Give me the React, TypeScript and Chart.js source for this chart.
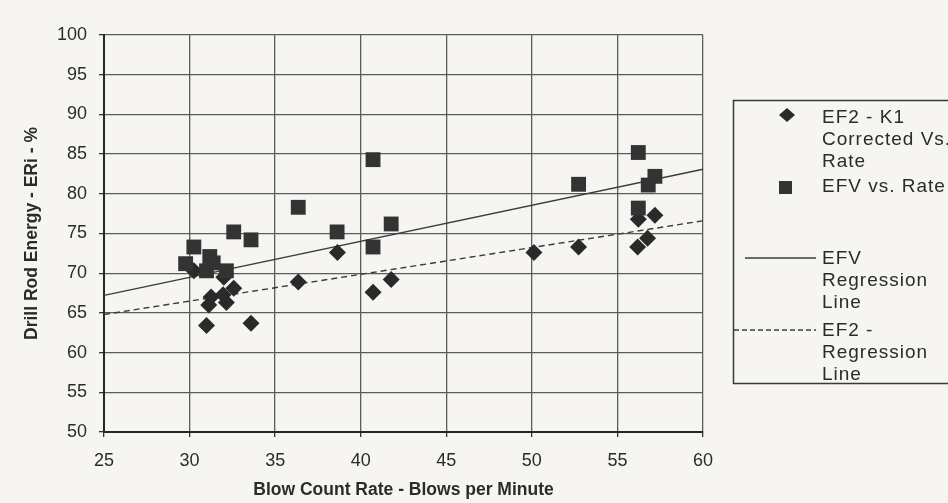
import { useEffect, useRef } from "react";
import { Chart, registerables } from "chart.js";

Chart.register(...registerables);

// EF2 - K1 corrected energy vs. blow count rate
const ef2Rate = [30.25, 32.0, 32.58, 31.26, 31.96, 32.15, 31.12, 30.99, 33.59, 36.35, 38.64, 40.72, 41.78, 50.12, 52.73, 56.18, 56.76, 56.22, 57.19];
const ef2Energy = [70.3, 69.5, 68.1, 67.0, 67.3, 66.3, 66.0, 63.4, 63.7, 68.9, 72.6, 67.6, 69.2, 72.6, 73.3, 73.3, 74.4, 76.8, 77.3];

// EFV energy vs. blow count rate
const efvRate = [29.77, 30.25, 31.18, 31.38, 30.99, 32.15, 32.58, 33.59, 36.35, 38.62, 40.72, 40.72, 41.78, 52.73, 56.22, 57.19, 56.8, 56.22];
const efvEnergy = [71.2, 73.3, 72.1, 71.3, 70.3, 70.3, 75.2, 74.2, 78.3, 75.2, 84.3, 73.3, 76.2, 81.2, 85.2, 82.2, 81.1, 78.2];

// Regression line end points
const fitRate = [25, 60];
const efvFit = [67.2, 83.1];
const ef2Fit = [64.8, 76.6];

// Axis ranges and labels
const xRange = [25, 60];
const yRange = [50, 100];
const tickStep = 5;
const xTitle = "Blow Count Rate - Blows per Minute";
const yTitle = "Drill Rod Energy - ERi - %";

// Legend text, one array per entry (wrapped lines)
const legendEf2Points = ["EF2 - K1", "Corrected Vs.", "Rate"];
const legendEfvPoints = ["EFV vs. Rate"];
const legendEfvLine = ["EFV", "Regression", "Line"];
const legendEf2Line = ["EF2 -", "Regression", "Line"];

const FONT = "'Liberation Sans', Arial, Helvetica, sans-serif";
const INK = "#2b2b2b";
const PAPER = "#f6f5f2";

const toPoints = (xs: number[], ys: number[]) => xs.map((x, i) => ({ x, y: ys[i] }));

const paperPlugin = {
  id: "paper",
  beforeDraw(chart: any) {
    const { ctx, width, height } = chart;
    ctx.save();
    ctx.fillStyle = PAPER;
    ctx.fillRect(0, 0, width, height);
    ctx.restore();
  },
};

const boxLegendPlugin = {
  id: "boxLegend",
  afterDraw(chart: any) {
    const { ctx } = chart;
    const ds = chart.data.datasets;
    ctx.save();
    // frame
    ctx.strokeStyle = "#3a3a3a";
    ctx.lineWidth = 1.5;
    ctx.strokeRect(733.5, 100.5, 230, 283);

    ctx.fillStyle = INK;
    ctx.font = `19px ${FONT}`;
    (ctx as any).letterSpacing = "1px";
    ctx.textBaseline = "middle";
    ctx.textAlign = "left";
    const textX = 822;
    const lineGap = 22;
    const drawLines = (lines: string[], y0: number) =>
      lines.forEach((t, i) => ctx.fillText(t, textX, y0 + i * lineGap));

    // diamond entry
    ctx.fillStyle = ds[0].backgroundColor;
    ctx.beginPath();
    ctx.moveTo(787, 115 - 7);
    ctx.lineTo(795, 115);
    ctx.lineTo(787, 115 + 7);
    ctx.lineTo(779, 115);
    ctx.closePath();
    ctx.fill();
    ctx.fillStyle = INK;
    drawLines(legendEf2Points, 118);

    // square entry
    ctx.fillStyle = ds[1].backgroundColor;
    ctx.fillRect(779, 181, 13, 13);
    ctx.fillStyle = INK;
    drawLines(legendEfvPoints, 187);

    // solid regression line entry
    ctx.strokeStyle = ds[2].borderColor;
    ctx.lineWidth = 1.4;
    ctx.beginPath();
    ctx.moveTo(745, 258);
    ctx.lineTo(816, 258);
    ctx.stroke();
    drawLines(legendEfvLine, 259);

    // dashed regression line entry
    ctx.strokeStyle = ds[3].borderColor;
    ctx.setLineDash([5, 3]);
    ctx.beginPath();
    ctx.moveTo(734, 330);
    ctx.lineTo(816, 330);
    ctx.stroke();
    ctx.setLineDash([]);
    drawLines(legendEf2Line, 331);
    ctx.restore();
  },
};

export default function App() {
  const canvasRef = useRef<HTMLCanvasElement | null>(null);

  useEffect(() => {
    const canvas = canvasRef.current;
    if (!canvas) return;

    const tickFont = { family: FONT, size: 18 };
    const titleFont = { family: FONT, size: 17.5, weight: "bold" as const };
    const grid = { color: "#5c5c5c", lineWidth: 1.3, tickLength: 5, tickColor: "#333" };
    const border = { color: "#262626", width: 2 };

    const chart = new Chart(canvas, {
      type: "scatter",
      data: {
        datasets: [
          {
            label: legendEf2Points.join(" "),
            data: toPoints(ef2Rate, ef2Energy),
            pointStyle: "rectRot",
            pointRadius: 8.5,
            backgroundColor: "#2a2a2a",
            borderColor: "#2a2a2a",
            borderWidth: 0,
            order: 1,
          },
          {
            label: legendEfvPoints.join(" "),
            data: toPoints(efvRate, efvEnergy),
            pointStyle: "rect",
            pointRadius: 10.5,
            backgroundColor: "#333333",
            borderColor: "#333333",
            borderWidth: 0,
            order: 0,
          },
          {
            label: legendEfvLine.join(" "),
            data: toPoints(fitRate, efvFit),
            showLine: true,
            pointRadius: 0,
            borderColor: "#3a3a3a",
            borderWidth: 1.4,
            order: 3,
          },
          {
            label: legendEf2Line.join(" "),
            data: toPoints(fitRate, ef2Fit),
            showLine: true,
            pointRadius: 0,
            borderColor: "#3a3a3a",
            borderWidth: 1.4,
            borderDash: [6, 4],
            order: 3,
          },
        ],
      },
      options: {
        responsive: false,
        animation: false,
        layout: { padding: { top: 35, right: 245, left: 0, bottom: 0 } },
        plugins: { legend: { display: false }, tooltip: { enabled: false } },
        scales: {
          x: {
            type: "linear",
            min: xRange[0],
            max: xRange[1],
            ticks: { stepSize: tickStep, font: tickFont, color: INK, padding: 13 },
            grid,
            border,
            title: { display: true, text: xTitle, font: titleFont, color: INK, padding: { top: 0, bottom: 2 } },
            afterFit(scale: any) {
              scale.height = 71;
            },
          },
          y: {
            type: "linear",
            min: yRange[0],
            max: yRange[1],
            ticks: { stepSize: tickStep, font: tickFont, color: INK, padding: 12 },
            grid,
            border,
            title: { display: true, text: yTitle, font: titleFont, color: INK, padding: { top: 22, bottom: 0 } },
            afterFit(scale: any) {
              scale.width = 104;
            },
          },
        },
      },
      plugins: [paperPlugin, boxLegendPlugin],
    });

    return () => chart.destroy();
  }, []);

  return (
    <div style={{ position: "absolute", left: 0, top: 0, width: 948, height: 503, background: PAPER }}>
      <canvas ref={canvasRef} width={948} height={503} style={{ display: "block" }} />
    </div>
  );
}
